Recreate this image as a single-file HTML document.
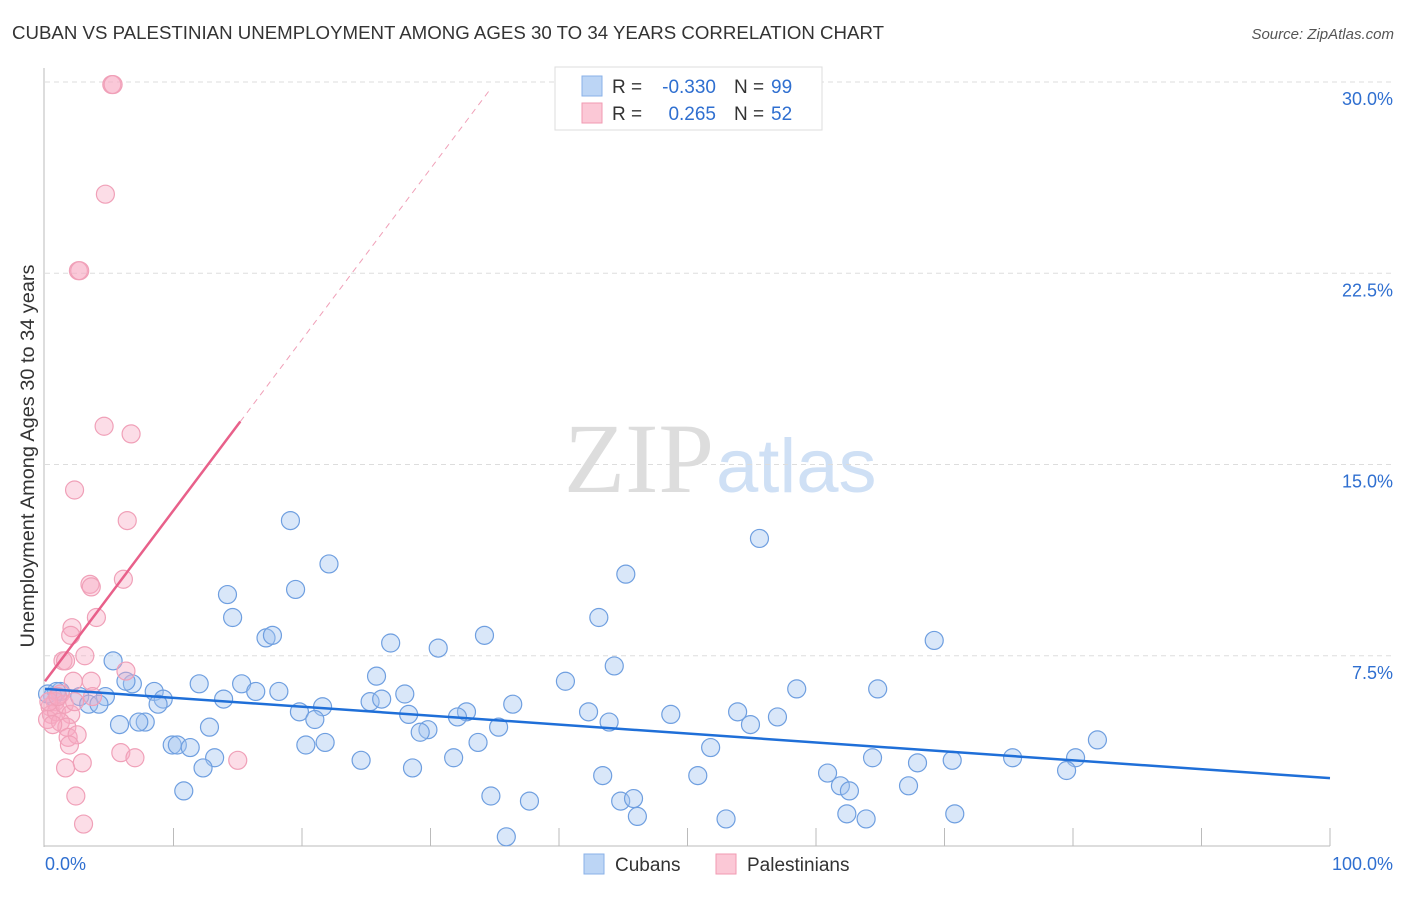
<!DOCTYPE html>
<html><head><meta charset="utf-8"><style>
body{margin:0;background:#fff;font-family:"Liberation Sans",sans-serif}
svg text{font-family:"Liberation Sans",sans-serif}
</style></head><body>
<svg id="c" width="1406" height="892" xmlns="http://www.w3.org/2000/svg">
<text x="12" y="39" font-size="18" fill="#333" textLength="872" lengthAdjust="spacingAndGlyphs">CUBAN VS PALESTINIAN UNEMPLOYMENT AMONG AGES 30 TO 34 YEARS CORRELATION CHART</text>
<text x="1394" y="39" font-size="15" fill="#555" text-anchor="end" font-style="italic">Source: ZipAtlas.com</text>
<text x="0" y="0" transform="translate(34,456) rotate(-90)" font-size="19" fill="#333" text-anchor="middle" textLength="383" lengthAdjust="spacingAndGlyphs">Unemployment Among Ages 30 to 34 years</text>
<text x="714" y="492" font-size="100" fill="#ddd" text-anchor="end" style="font-family:'Liberation Serif',serif">ZIP</text>
<text x="716" y="492" font-size="76" fill="#cfe0f5">atlas</text>
<g id="grid"></g><g id="axes"></g><g id="pts"></g><g id="trend"></g>
<g>
<rect x="555" y="67" width="267" height="63" fill="#fff" stroke="#ddd"/>
<rect x="582" y="76" width="20" height="20" fill="#bcd5f5" stroke="#8ab1e8"/>
<rect x="582" y="103" width="20" height="20" fill="#fbc8d6" stroke="#f09ab2"/>
<text x="612" y="93" font-size="19" fill="#333">R =</text>
<text x="716" y="93" font-size="19" fill="#2f6fd0" text-anchor="end">-0.330</text>
<text x="734" y="93" font-size="19" fill="#333">N =</text>
<text x="771" y="93" font-size="19" fill="#2f6fd0">99</text>
<text x="612" y="120" font-size="19" fill="#333">R =</text>
<text x="716" y="120" font-size="19" fill="#2f6fd0" text-anchor="end">0.265</text>
<text x="734" y="120" font-size="19" fill="#333">N =</text>
<text x="771" y="120" font-size="19" fill="#2f6fd0">52</text>
</g>
<g>
<rect x="584" y="854" width="20" height="20" fill="#bcd5f5" stroke="#8ab1e8"/>
<text x="615" y="871" font-size="19" fill="#333">Cubans</text>
<rect x="716" y="854" width="20" height="20" fill="#fbc8d6" stroke="#f09ab2"/>
<text x="747" y="871" font-size="19" fill="#333">Palestinians</text>
</g>
</svg>
<script>
const yTicks=[7.5,15,22.5,30];
const yTickLabels=["7.5%","15.0%","22.5%","30.0%"];
const xTicks=[10,20,30,40,50,60,70,80,90,100];
const cubanX=[19.1,22.1,55.6,45.2,19.5,14.2,14.6,43.1,17.2,17.7,26.9,34.2,30.6,69.2,5.3,44.3,25.8,40.5,12.0,15.3,6.8,6.3,58.5,64.8,8.5,16.4,18.2,28.0,25.3,26.2,13.9,9.2,4.7,2.7,1.2,0.6,3.4,4.2,8.8,36.4,21.6,19.8,21.0,32.8,32.1,28.3,42.3,53.9,57.0,48.7,7.8,7.3,5.8,12.8,29.8,29.2,35.3,43.9,54.9,81.9,9.9,10.3,11.3,21.8,20.3,33.7,51.8,13.2,12.3,24.6,31.8,28.6,64.4,67.9,70.6,75.3,80.2,79.5,43.4,50.8,60.9,61.9,62.6,67.2,10.8,34.7,37.7,44.8,45.8,46.1,53.0,62.4,63.9,70.8,35.9,0.9,0.2];
const cubanY=[12.8,11.1,12.1,10.7,10.1,9.9,9.0,9.0,8.2,8.3,8.0,8.3,7.8,8.1,7.3,7.1,6.7,6.5,6.4,6.4,6.4,6.5,6.2,6.2,6.1,6.1,6.1,6.0,5.7,5.8,5.8,5.8,5.9,5.9,6.1,5.9,5.6,5.6,5.6,5.6,5.5,5.3,5.0,5.3,5.1,5.2,5.3,5.3,5.1,5.2,4.9,4.9,4.8,4.7,4.6,4.5,4.7,4.9,4.8,4.2,4.0,4.0,3.9,4.1,4.0,4.1,3.9,3.5,3.1,3.4,3.5,3.1,3.5,3.3,3.4,3.5,3.5,3.0,2.8,2.8,2.9,2.4,2.2,2.4,2.2,2.0,1.8,1.8,1.9,1.2,1.1,1.3,1.1,1.3,0.4,6.1,6.0];
const palX=[5.2,5.3,4.7,2.6,2.7,4.6,6.7,2.3,6.4,6.1,3.5,3.6,4.0,2.1,2.0,3.1,1.4,1.6,6.3,2.2,3.6,3.7,1.2,0.8,0.4,0.5,0.2,0.9,1.5,2.0,1.2,1.7,1.8,2.5,1.9,5.9,7.0,2.9,1.6,15.0,2.4,3.0,0.3,1.0,2.3,0.6];
const palY=[29.9,29.9,25.6,22.6,22.6,16.5,16.2,14.0,12.8,10.5,10.3,10.2,9.0,8.6,8.3,7.5,7.3,7.3,6.9,6.5,6.5,5.9,6.0,5.7,5.5,5.2,5.0,5.3,5.6,5.2,4.9,4.7,4.3,4.4,4.0,3.7,3.5,3.3,3.1,3.4,2.0,0.9,5.7,5.9,5.7,4.8];
const cubanTrend=[6.2,2.7]; // y at x=0 and x=100
const palTrend=[6.5,0.67]; // intercept, slope
const NS="http://www.w3.org/2000/svg";
const X=v=>45+v*12.85, Y=v=>847-v*25.5;
function mk(t,a,p){const e=document.createElementNS(NS,t);for(const k in a)e.setAttribute(k,a[k]);p.appendChild(e);return e;}
const grid=document.getElementById('grid'),axes=document.getElementById('axes'),pts=document.getElementById('pts'),tr=document.getElementById('trend');
yTicks.forEach((t,i)=>{
 const l=mk('line',{x1:45,x2:1394,y1:Y(t),y2:Y(t),stroke:'#ddd','stroke-dasharray':'5,4'},grid);
 
 
 const tx=mk('text',{x:1393,y:Y(t)+23,'font-size':18,fill:'#2f6fd0','text-anchor':'end'},grid);
 tx.textContent=yTickLabels[i];
 
 
});
let a=mk('line',{x1:44,x2:44,y1:68,y2:847,stroke:'#bbb'},axes);


a=mk('line',{x1:44,x2:1330,y1:846,y2:846,stroke:'#bbb'},axes);


xTicks.forEach(t=>{const l=mk('line',{x1:X(t),x2:X(t),y1:828,y2:846,stroke:'#bbb'},axes);
 
 });
let t0=mk('text',{x:45,y:870,'font-size':18,fill:'#2f6fd0'},axes);t0.textContent='0.0%';


t0=mk('text',{x:1393,y:870,'font-size':18,fill:'#2f6fd0','text-anchor':'end'},axes);t0.textContent='100.0%';


cubanX.forEach((x,i)=>{const c=mk('circle',{cx:X(x),cy:Y(cubanY[i]),r:9,fill:'rgba(160,195,240,0.4)',stroke:'#6f9fe0','stroke-width':1.2},pts);
 
 });
palX.forEach((x,i)=>{const c=mk('circle',{cx:X(x),cy:Y(palY[i]),r:9,fill:'rgba(248,170,195,0.4)',stroke:'#f0a0b8','stroke-width':1.2},pts);
 
 });
let L=mk('line',{x1:X(0),y1:Y(cubanTrend[0]),x2:X(100),y2:Y(cubanTrend[1]),stroke:'#1f6fd8','stroke-width':2.5},tr);


const pE=15.2,pD=34.6;
L=mk('line',{x1:X(0),y1:Y(palTrend[0]),x2:X(pE),y2:Y(palTrend[0]+palTrend[1]*pE),stroke:'#e8608a','stroke-width':2.5},tr);


L=mk('line',{x1:X(pE),y1:Y(palTrend[0]+palTrend[1]*pE),x2:X(pD),y2:Y(palTrend[0]+palTrend[1]*pD),stroke:'#f0a0b8','stroke-width':1,'stroke-dasharray':'6,5'},tr);


</script>
</body></html>
